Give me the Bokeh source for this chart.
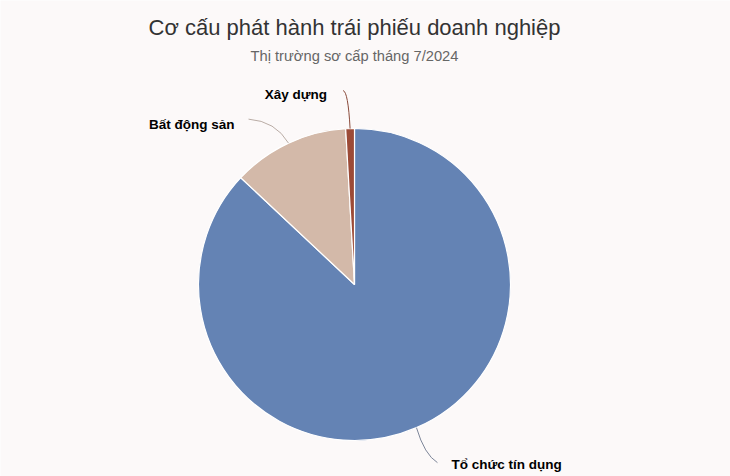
import math
from bokeh.plotting import figure
from bokeh.models import Range1d, ColumnDataSource
from bokeh.core.properties import value
from bokeh.embed import file_html
from bokeh.resources import INLINE

# ---- data ----
categories = ["Tổ chức tín dụng", "Bất động sản", "Xây dựng"]
shares = [87.0, 12.1, 0.9]
colors = ["#6483b4", "#d3b9a9", "#9c4a36"]
connector_colors = ["#7d8699", "#b9aca5", "#8a4a3a"]
title_text = "Cơ cấu phát hành trái phiếu doanh nghiệp"
subtitle_text = "Thị trường sơ cấp tháng 7/2024"

# ---- layout (reference-pixel helpers) ----
W, H = 730, 476
BG = "#fcf9f9"

def X(rx):
    return rx

def Y(ry):
    return H - ry

cx, cy, R = X(354), Y(284), 156

p = figure(width=W, height=H, output_backend="svg", toolbar_location=None,
           x_range=Range1d(0, W), y_range=Range1d(0, H),
           min_border=0, background_fill_color=BG, border_fill_color=BG,
           outline_line_color=None)
p.axis.visible = False
p.grid.visible = False

total = sum(shares)
starts, ends, mids = [], [], []
cum = 0.0
for v in shares:
    a0 = math.pi / 2 - 2 * math.pi * cum / total
    cum += v
    a1 = math.pi / 2 - 2 * math.pi * cum / total
    starts.append(a0)
    ends.append(a1)
    mids.append((a0 + a1) / 2)

src = ColumnDataSource(dict(x=[cx] * 3, y=[cy] * 3, start=starts, end=ends,
                            color=colors, cat=categories))
p.wedge(x="x", y="y", radius=R, radius_units="screen", start_angle="start",
        end_angle="end", direction="clock", fill_color="color",
        line_color="white", line_width=1.2, source=src)

# connectors & labels (offsets in px relative to the slice-edge point)
label_layout = [
    dict(end=(21, -35), ctrl=(8, -27), align="left", tdx=14, tdy=-2),
    dict(end=(-40, 24), ctrl=(-13, 22), align="right", tdx=-14, tdy=-5),
    dict(end=(-7, 38), ctrl=(-2, 37), align="right", tdx=-16, tdy=-4),
]
for i, cat in enumerate(categories):
    sx = cx + R * math.cos(mids[i])
    sy = cy + R * math.sin(mids[i])
    lay = label_layout[i]
    ex, ey = sx + lay["end"][0], sy + lay["end"][1]
    kx, ky = sx + lay["ctrl"][0], sy + lay["ctrl"][1]
    p.quadratic(x0=[sx], y0=[sy], x1=[ex], y1=[ey], cx=[kx], cy=[ky],
                line_color=connector_colors[i], line_width=1)
    p.text(x=[ex + lay["tdx"]], y=[ey + lay["tdy"]], text=[cat],
           text_font=value("Liberation Sans"), text_font_size="13.5px",
           text_font_style="bold", text_color="#000000",
           text_align=lay["align"], text_baseline="middle")

p.text(x=[X(354)], y=[Y(27)], text=[title_text], text_font=value("Liberation Sans"),
       text_font_size="22px", text_color="#333333", text_align="center",
       text_baseline="middle")
p.text(x=[X(354)], y=[Y(55)], text=[subtitle_text], text_font=value("Liberation Sans"),
       text_font_size="14.7px", text_color="#666666", text_align="center",
       text_baseline="middle")

open("out.html", "w").write(file_html(p, INLINE))
